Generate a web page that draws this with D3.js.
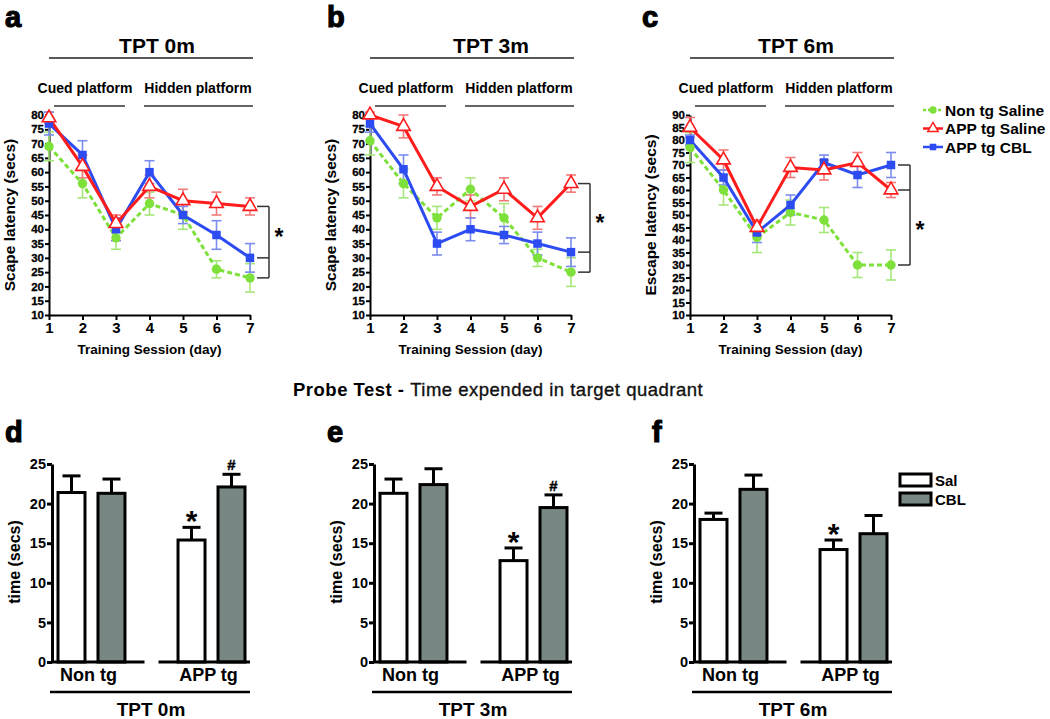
<!DOCTYPE html>
<html>
<head>
<meta charset="utf-8">
<script src="https://cdn.jsdelivr.net/npm/d3@7"></script>
<style>
  body { margin: 0; background: #fff; }
  svg { display: block; }
  text { font-family: "Liberation Sans", Arial, Helvetica, sans-serif; }
</style>
</head>
<body>
<svg id="chart" width="1050" height="719"></svg>
<script>
// ---- data ----
var days = [1, 2, 3, 4, 5, 6, 7];
var seriesNames = ["Non tg Saline", "APP tg Saline", "APP tg CBL"];

// TPT 0m escape latency
var nonTgSaline0m = [69, 56, 37, 49, 45, 26, 23];
var nonTgSaline0mErr = [5, 5, 4, 4, 5, 3, 5];
var appSaline0m = [79, 62, 42, 55, 50, 49, 48];
var appSaline0mErr = [2, 4, 3, 4, 4, 4, 3];
var appCbl0m = [77, 66, 40, 60, 45, 38, 30];
var appCbl0mErr = [4, 5, 4, 4, 3, 5, 5];

// TPT 3m
var nonTgSaline3m = [71, 56, 44, 54, 44, 30, 25];
var nonTgSaline3mErr = [5, 5, 4, 4, 5, 3, 5];
var appSaline3m = [80, 76, 55, 48, 54, 44, 56];
var appSaline3mErr = [1, 4, 3, 4, 4, 4, 3];
var appCbl3m = [77, 61, 35, 40, 38, 35, 32];
var appCbl3mErr = [3, 5, 4, 4, 3, 4, 5];

// TPT 6m
var nonTgSaline6m = [77, 60, 41, 51, 48, 30, 30];
var nonTgSaline6mErr = [6, 6, 6, 5, 5, 5, 6];
var appSaline6m = [85, 72, 45, 69, 68, 71, 60];
var appSaline6mErr = [4, 4, 3, 4, 4, 4, 3];
var appCbl6m = [80, 65, 43, 54, 71, 66, 70];
var appCbl6mErr = [2, 3, 4, 4, 3, 5, 5];

// probe test, time in target quadrant
var groups = ["Non tg", "APP tg"];
var treatments = ["Sal", "CBL"];
var probe0m = [21.4, 21.3, 15.4, 22.1];
var probe0mErr = [2.1, 1.8, 1.6, 1.6];
var probe0mMarks = ["", "", "*", "#"];
var probe3m = [21.3, 22.4, 12.8, 19.5];
var probe3mErr = [1.8, 2.0, 1.6, 1.6];
var probe3mMarks = ["", "", "*", "#"];
var probe6m = [18.0, 21.8, 14.2, 16.2];
var probe6mErr = [0.8, 1.8, 1.2, 2.3];
var probe6mMarks = ["", "", "*", ""];

// ---- styles ----
var colors = ["#7ee03a", "#ff1c1c", "#2c4cf2"];
var errColors = ["#a6e77a", "#f27a7a", "#7c8cf0"];
var symbols = [d3.symbolCircle, d3.symbolTriangle, d3.symbolSquare];
var symSizes = [70, 80, 72];
var grayFill = "#798784";

var svg = d3.select("#chart");
svg.append("rect").attr("width", 1050).attr("height", 719).attr("fill", "#fff");

var linePanels = [
    {letter: "a", letterX: 5, left: 49, title: "TPT 0m", titleDx: 108, yMax: 80,
     yLabel: "Scape latency (secs)", starValue: 39,
     means: [nonTgSaline0m, appSaline0m, appCbl0m], errs: [nonTgSaline0mErr, appSaline0mErr, appCbl0mErr]},
    {letter: "b", letterX: 327, left: 370, title: "TPT 3m", titleDx: 121, yMax: 80,
     yLabel: "Scape latency (secs)", starValue: 44,
     means: [nonTgSaline3m, appSaline3m, appCbl3m], errs: [nonTgSaline3mErr, appSaline3mErr, appCbl3mErr]},
    {letter: "c", letterX: 642, left: 690, title: "TPT 6m", titleDx: 106, yMax: 90,
     yLabel: "Escape latency (secs)", starValue: 46,
     means: [nonTgSaline6m, appSaline6m, appCbl6m], errs: [nonTgSaline6mErr, appSaline6mErr, appCbl6mErr]}
];

var plotTop = 115, plotBottom = 315, plotW = 201;

function panelLetter(g, x, y, letter) {
    g.append("text").attr("x", x).attr("y", y)
        .attr("font-size", 29).attr("font-weight", "bold")
        .attr("stroke", "#000").attr("stroke-width", 1.2).text(letter);
}

linePanels.forEach(function(p) {
    var x = d3.scaleLinear().domain([1, 7]).range([p.left, p.left + plotW]);
    var y = d3.scaleLinear().domain([10, p.yMax]).range([plotBottom, plotTop]);
    var g = svg.append("g");

    panelLetter(g, p.letterX, 27, p.letter);

    // headings
    g.append("text").attr("x", p.left + p.titleDx).attr("y", 53)
        .attr("text-anchor", "middle").attr("font-size", 21).attr("font-weight", "bold").text(p.title);
    g.append("line").attr("x1", p.left).attr("x2", p.left + 204).attr("y1", 58).attr("y2", 58)
        .attr("stroke", "#222").attr("stroke-width", 1.6);
    g.append("text").attr("x", p.left + 36).attr("y", 93)
        .attr("text-anchor", "middle").attr("font-size", 14).attr("font-weight", "bold").text("Cued platform");
    g.append("text").attr("x", p.left + 149).attr("y", 93)
        .attr("text-anchor", "middle").attr("font-size", 14).attr("font-weight", "bold").text("Hidden platform");
    g.append("line").attr("x1", p.left + 5).attr("x2", p.left + 76).attr("y1", 106).attr("y2", 106)
        .attr("stroke", "#333").attr("stroke-width", 1.6);
    g.append("line").attr("x1", p.left + 95).attr("x2", p.left + 204).attr("y1", 106).attr("y2", 106)
        .attr("stroke", "#333").attr("stroke-width", 1.6);

    // axes
    var yAxis = d3.axisLeft(y).tickValues(d3.range(10, p.yMax + 1, 5)).tickSize(4).tickSizeOuter(0).tickPadding(1);
    var xAxis = d3.axisBottom(x).tickValues(days).tickFormat(d3.format("d"))
        .tickSize(5).tickSizeOuter(0).tickPadding(2);

    g.append("g").attr("transform", "translate(" + p.left + ",0)").call(yAxis)
        .call(function(a) {
            a.selectAll("path, line").attr("stroke", "#000").attr("stroke-width", 2);
            a.selectAll("text").attr("font-size", 11.5).attr("font-weight", "bold").attr("fill", "#000")
                .attr("font-family", "'Liberation Sans', Arial, sans-serif")
                .attr("stroke", "#000").attr("stroke-width", 0.3);
        });
    g.append("g").attr("transform", "translate(0," + plotBottom + ")").call(xAxis)
        .call(function(a) {
            a.selectAll("path, line").attr("stroke", "#000").attr("stroke-width", 2);
            a.selectAll("text").attr("font-size", 15).attr("font-weight", "bold").attr("fill", "#000")
                .attr("font-family", "'Liberation Sans', Arial, sans-serif");
        });

    g.append("text").attr("x", p.left + plotW / 2).attr("y", 354)
        .attr("text-anchor", "middle").attr("font-size", 13.5).attr("font-weight", "bold")
        .text("Training Session (day)");
    g.append("text")
        .attr("transform", "translate(" + (p.left - 34) + "," + ((plotTop + plotBottom) / 2) + ") rotate(-90)")
        .attr("text-anchor", "middle").attr("font-size", 15.5).attr("font-weight", "bold")
        .text(p.yLabel);

    // error bars
    p.means.forEach(function(m, si) {
        var eg = g.append("g").attr("stroke", errColors[si]).attr("stroke-width", 1.6);
        m.forEach(function(v, i) {
            var e = p.errs[si][i], cx = x(days[i]);
            eg.append("line").attr("x1", cx).attr("x2", cx).attr("y1", y(v - e)).attr("y2", y(v + e));
            eg.append("line").attr("x1", cx - 5).attr("x2", cx + 5).attr("y1", y(v - e)).attr("y2", y(v - e));
            eg.append("line").attr("x1", cx - 5).attr("x2", cx + 5).attr("y1", y(v + e)).attr("y2", y(v + e));
        });
    });

    var line = d3.line().x(function(d, i) { return x(days[i]); }).y(function(d) { return y(d); });
    [0, 2, 1].forEach(function(si) {
        g.append("path").datum(p.means[si])
            .attr("fill", "none").attr("stroke", colors[si]).attr("stroke-width", 3)
            .attr("stroke-dasharray", si === 0 ? "5,3" : null)
            .attr("d", line);
    });
    [0, 2, 1].forEach(function(si) {
        g.selectAll(null).data(p.means[si]).enter().append("path")
            .attr("transform", function(d, i) { return "translate(" + x(days[i]) + "," + y(d) + ")"; })
            .attr("d", d3.symbol().type(symbols[si]).size(symSizes[si]))
            .attr("fill", si === 1 ? "#fff" : colors[si])
            .attr("stroke", colors[si]).attr("stroke-width", si === 1 ? 1.6 : 0);
    });

    // significance bracket at day 7
    var last = p.means.map(function(m) { return m[m.length - 1]; });
    var bx = x(7) + 7, bx2 = x(7) + 19;
    var bg = g.append("g").attr("stroke", "#333").attr("stroke-width", 1.5).attr("fill", "none");
    bg.append("line").attr("x1", bx2).attr("x2", bx2).attr("y1", y(d3.max(last))).attr("y2", y(d3.min(last)));
    last.forEach(function(v) {
        bg.append("line").attr("x1", bx).attr("x2", bx2).attr("y1", y(v)).attr("y2", y(v));
    });
    g.append("text").attr("x", bx2 + 10).attr("y", y(p.starValue) + 13)
        .attr("text-anchor", "middle").attr("font-size", 23).attr("font-weight", "bold").text("*");
});

// legend for line panels
var lg = svg.append("g");
seriesNames.forEach(function(name, si) {
    var ly = 110 + si * 18.5;
    lg.append("line").attr("x1", 923).attr("x2", 943).attr("y1", ly).attr("y2", ly)
        .attr("stroke", colors[si]).attr("stroke-width", 2.5)
        .attr("stroke-dasharray", si === 0 ? "3,2" : null);
    lg.append("path").attr("transform", "translate(933," + ly + ")")
        .attr("d", d3.symbol().type(symbols[si]).size(symSizes[si] * 0.6))
        .attr("fill", si === 1 ? "#fff" : colors[si])
        .attr("stroke", colors[si]).attr("stroke-width", si === 1 ? 1.4 : 0);
    lg.append("text").attr("x", 945).attr("y", ly + 5.5)
        .attr("font-size", 15.5).attr("font-weight", "bold").text(name);
});

// probe test heading
var pt = svg.append("text").attr("x", 293).attr("y", 396).attr("font-size", 18.5).attr("letter-spacing", 0.5);
pt.append("tspan").attr("font-weight", "bold").text("Probe Test - ");
pt.append("tspan").attr("fill", "#111").attr("stroke", "#111").attr("stroke-width", 0.35)
    .text("Time expended in target quadrant");

// bar panels
var barPanels = [
    {letter: "d", letterX: 5, left: 52, title: "TPT 0m", values: probe0m, errs: probe0mErr, marks: probe0mMarks},
    {letter: "e", letterX: 327, left: 374, title: "TPT 3m", values: probe3m, errs: probe3mErr, marks: probe3mMarks},
    {letter: "f", letterX: 652, left: 694, title: "TPT 6m", values: probe6m, errs: probe6mErr, marks: probe6mMarks}
];

var yBar = d3.scaleLinear().domain([0, 25]).range([662, 464]);

barPanels.forEach(function(p) {
    var g = svg.append("g");
    var xGroup = d3.scaleBand().domain(groups).range([p.left + 6, p.left + 193]).paddingInner(0.442);
    var xTreat = d3.scaleBand().domain(treatments).range([0, xGroup.bandwidth()]).paddingInner(0.325);
    var bw = xTreat.bandwidth();

    panelLetter(g, p.letterX, 442, p.letter);

    var cells = [];
    groups.forEach(function(gr, gi) {
        treatments.forEach(function(t, ti) {
            var k = gi * 2 + ti;
            cells.push({g: gr, t: t, v: p.values[k], e: p.errs[k], mark: p.marks[k]});
        });
    });

    // error bars (upper only)
    cells.forEach(function(c) {
        var cx = xGroup(c.g) + xTreat(c.t) + bw / 2;
        g.append("line").attr("x1", cx).attr("x2", cx).attr("y1", yBar(c.v)).attr("y2", yBar(c.v + c.e))
            .attr("stroke", "#000").attr("stroke-width", 3);
        g.append("line").attr("x1", cx - 9).attr("x2", cx + 9).attr("y1", yBar(c.v + c.e)).attr("y2", yBar(c.v + c.e))
            .attr("stroke", "#000").attr("stroke-width", 3);
        if (c.mark === "*") {
            g.append("text").attr("x", cx).attr("y", yBar(c.v + c.e) + 4)
                .attr("text-anchor", "middle").attr("font-size", 30).attr("font-weight", "bold").text("*");
        } else if (c.mark === "#") {
            g.append("text").attr("x", cx).attr("y", yBar(c.v + c.e) - 4)
                .attr("text-anchor", "middle").attr("font-size", 15).attr("font-weight", "bold")
                .attr("stroke", "#000").attr("stroke-width", 0.4).text("#");
        }
    });

    g.selectAll(".bar").data(cells).enter().append("rect")
        .attr("x", function(d) { return xGroup(d.g) + xTreat(d.t); })
        .attr("y", function(d) { return yBar(d.v); })
        .attr("width", bw)
        .attr("height", function(d) { return yBar(0) - yBar(d.v); })
        .attr("fill", function(d) { return d.t === "Sal" ? "#fff" : grayFill; })
        .attr("stroke", "#000").attr("stroke-width", 3);

    // y axis
    var yAxis = d3.axisLeft(yBar).tickValues([0, 5, 10, 15, 20, 25]).tickSize(5).tickSizeOuter(0).tickPadding(1);
    g.append("g").attr("transform", "translate(" + p.left + ",0)").call(yAxis)
        .call(function(a) {
            a.selectAll("path, line").attr("stroke", "#000").attr("stroke-width", 3);
            a.selectAll("text").attr("font-size", 14.5).attr("font-weight", "bold").attr("fill", "#000")
                .attr("font-family", "'Liberation Sans', Arial, sans-serif");
        });

    // broken baseline
    var gap = (xGroup("Non tg") + xGroup.bandwidth() + xGroup("APP tg")) / 2;
    var endX = xGroup("APP tg") + xGroup.bandwidth() + 5;
    g.append("line").attr("x1", p.left).attr("x2", gap - 7).attr("y1", yBar(0)).attr("y2", yBar(0))
        .attr("stroke", "#000").attr("stroke-width", 3);
    g.append("line").attr("x1", gap + 7).attr("x2", endX).attr("y1", yBar(0)).attr("y2", yBar(0))
        .attr("stroke", "#000").attr("stroke-width", 3);

    groups.forEach(function(gr) {
        g.append("text").attr("x", xGroup(gr) + xGroup.bandwidth() / 2 - 3).attr("y", 681)
            .attr("text-anchor", "middle").attr("font-size", 18).attr("font-weight", "bold").text(gr);
    });
    g.append("line").attr("x1", p.left - 2).attr("x2", endX).attr("y1", 692).attr("y2", 692)
        .attr("stroke", "#000").attr("stroke-width", 2.5);
    g.append("text").attr("x", (p.left + endX) / 2).attr("y", 716)
        .attr("text-anchor", "middle").attr("font-size", 19).attr("font-weight", "bold").text(p.title);

    g.append("text")
        .attr("transform", "translate(" + (p.left - 32) + "," + ((462 + 662) / 2) + ") rotate(-90)")
        .attr("text-anchor", "middle").attr("font-size", 16).attr("font-weight", "bold").text("time (secs)");
});

// bar legend
var bl = svg.append("g");
treatments.forEach(function(t, i) {
    var ly = 474 + i * 19;
    bl.append("rect").attr("x", 900).attr("y", ly).attr("width", 31).attr("height", 12)
        .attr("fill", t === "Sal" ? "#fff" : grayFill).attr("stroke", "#000").attr("stroke-width", 3);
    bl.append("text").attr("x", 935).attr("y", ly + 11.5)
        .attr("font-size", 15).attr("font-weight", "bold").text(t);
});
</script>
</body>
</html>
